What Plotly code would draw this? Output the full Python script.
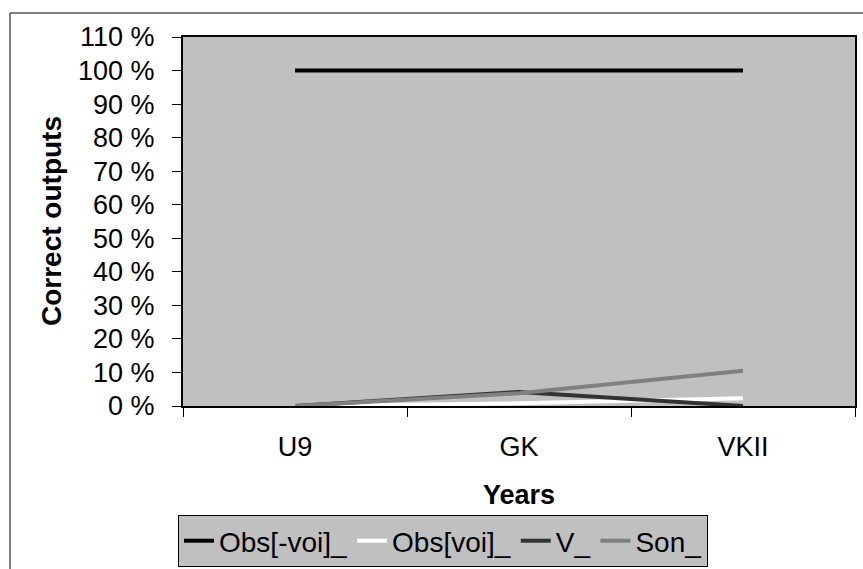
import plotly.graph_objects as go

# Study years on the x axis, share of correct outputs (%) per category
years = ["U9", "GK", "VKII"]
obs_minus_voi = [100, 100, 100]
obs_voi = [0, 0.8, 2.3]
v_vals = [0, 4.2, 0]
son_vals = [0, 3.8, 10.5]

y_ticks = [0, 10, 20, 30, 40, 50, 60, 70, 80, 90, 100, 110]
y_tick_text = [f"{t} %" for t in y_ticks]

series = [
    ("Obs[-voi]_", obs_minus_voi, "#000000"),
    ("Obs[voi]_", obs_voi, "#FFFFFF"),
    ("V_", v_vals, "#333333"),
    ("Son_", son_vals, "#808080"),
]

FONT = "Liberation Sans, Arial, sans-serif"

fig = go.Figure()
for name, vals, color in series:
    fig.add_trace(go.Scatter(
        x=years, y=vals, name=name, mode="lines",
        line=dict(color=color, width=4),
    ))

W, H = 863, 569
L, R, T, B = 183, 8, 37, 163
pw, ph = W - L - R, H - T - B

def px(x):
    return (x - L) / pw

def py(y):
    return (H - B - y) / ph

fig.update_layout(
    width=W, height=H,
    margin=dict(l=L, r=R, t=T, b=B, autoexpand=False),
    paper_bgcolor="white",
    plot_bgcolor="#C0C0C0",
    font=dict(family=FONT, size=27, color="black"),
    showlegend=True,
    legend=dict(
        orientation="h",
        x=px(178), xanchor="left",
        y=py(541), yanchor="middle",
        bgcolor="#C0C0C0",
        bordercolor="black", borderwidth=1,
        font=dict(family=FONT, size=28, color="black"),
        itemwidth=30,
        tracegroupgap=0,
    ),
    xaxis=dict(
        type="category",
        range=[-0.5, 2.5],
        showline=True, linecolor="black", linewidth=2, mirror=True,
        showgrid=False, zeroline=False,
        ticks="outside", tickson="boundaries", ticklen=9,
        tickcolor="black", tickwidth=1,
        tickfont=dict(family=FONT, size=27),
        ticklabelstandoff=16,
    ),
    yaxis=dict(
        range=[0, 110],
        tickvals=y_ticks, ticktext=y_tick_text,
        showline=True, linecolor="black", linewidth=2, mirror=True,
        showgrid=False, zeroline=False,
        ticks="outside", ticklen=9, tickcolor="black", tickwidth=1,
        tickfont=dict(family=FONT, size=27),
        ticklabelstandoff=12,
    ),
    annotations=[
        dict(text="<b>Correct outputs</b>", textangle=-90,
             xref="paper", yref="paper", x=px(51), y=py(221),
             xanchor="center", yanchor="middle", showarrow=False,
             font=dict(family=FONT, size=28, color="black")),
        dict(text="<b>Years</b>",
             xref="paper", yref="paper", x=px(519), y=py(495),
             xanchor="center", yanchor="middle", showarrow=False,
             font=dict(family=FONT, size=27, color="black")),
    ],
    shapes=[
        dict(type="rect", xref="paper", yref="paper",
             x0=px(10), y0=py(H + 20), x1=px(W + 20), y1=py(13),
             line=dict(color="black", width=1), fillcolor="rgba(0,0,0,0)",
             layer="below"),
    ],
)

fig.write_html("out.html")
